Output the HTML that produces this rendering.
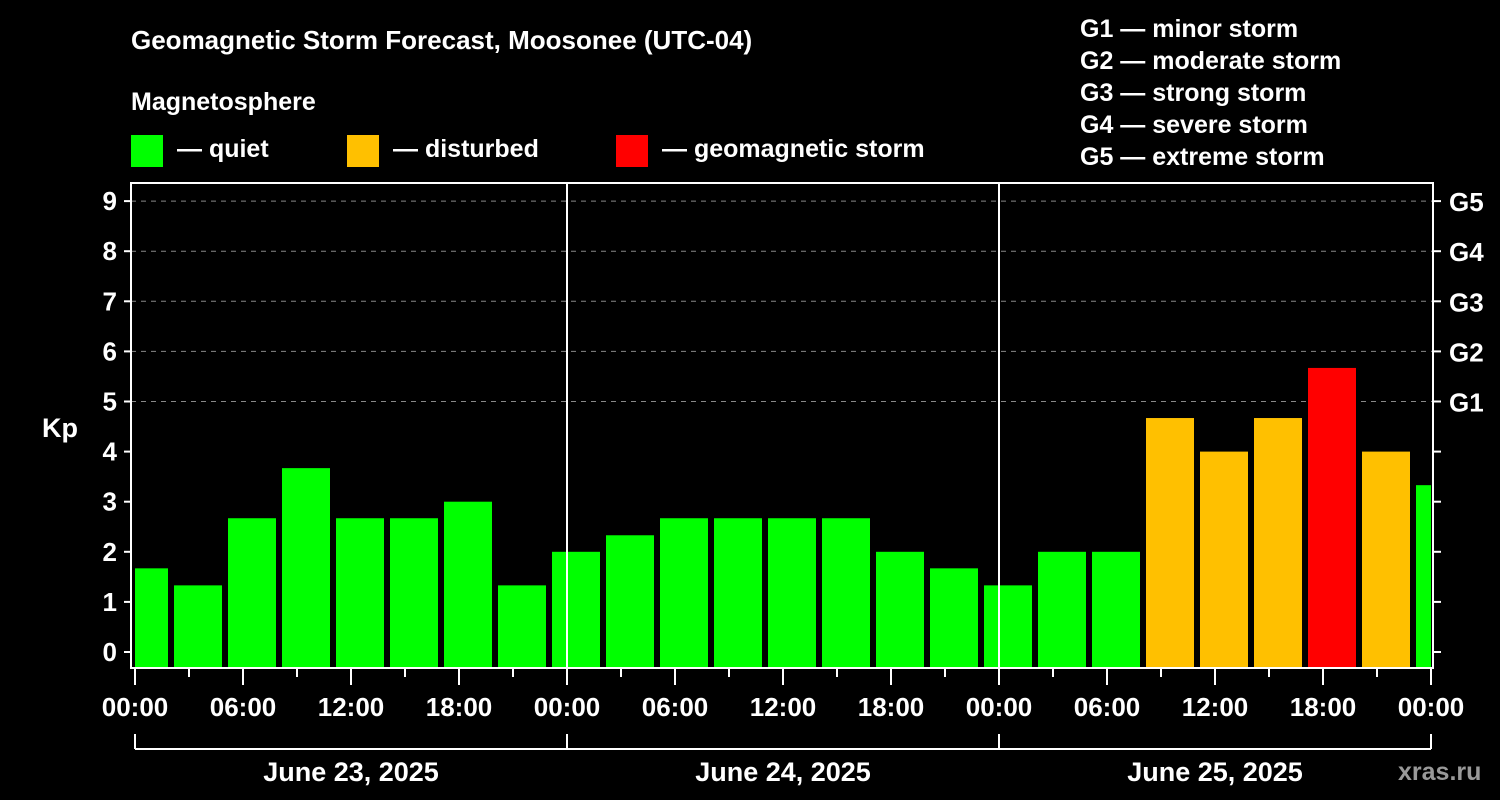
<!DOCTYPE html>
<html><head><meta charset="utf-8"><style>
html,body{margin:0;padding:0;background:#000;}
svg{display:block;font-family:"Liberation Sans",Arial,sans-serif;font-weight:bold;}
</style></head><body>
<svg id="chart" width="1500" height="800" viewBox="0 0 1500 800" xmlns="http://www.w3.org/2000/svg">
<rect width="1500" height="800" fill="#000"/>
<text x="131" y="49" fill="#fff" font-size="26">Geomagnetic Storm Forecast, Moosonee (UTC-04)</text>
<text x="131" y="110" fill="#fff" font-size="25">Magnetosphere</text>
<g><rect x="131" y="135" width="32" height="32" fill="#00ff00"/><text x="177" y="157" fill="#fff" font-size="25">— quiet</text></g>
<g><rect x="347" y="135" width="32" height="32" fill="#ffc000"/><text x="393" y="157" fill="#fff" font-size="25">— disturbed</text></g>
<g><rect x="616" y="135" width="32" height="32" fill="#ff0000"/><text x="662" y="157" fill="#fff" font-size="25">— geomagnetic storm</text></g>
<g fill="#fff" font-size="25">
<text x="1080" y="37">G1 — minor storm</text>
<text x="1080" y="69">G2 — moderate storm</text>
<text x="1080" y="101">G3 — strong storm</text>
<text x="1080" y="133">G4 — severe storm</text>
<text x="1080" y="165">G5 — extreme storm</text>
</g>
<text x="42" y="437" fill="#fff" font-size="27">Kp</text>
<g id="grid"></g><g id="bars"></g><g id="axes"></g>
<text x="1398" y="780" fill="#999" font-size="25">xras.ru</text>
</svg>
<script>
const kpValues=[1.67,1.33,2.67,3.67,2.67,2.67,3.0,1.33,2.0,2.33,2.67,2.67,2.67,2.67,2.0,1.67,1.33,2.0,2.0,4.67,4.0,4.67,5.67,4.0,3.33];
const binStartHours=[-1,2,5,8,11,14,17,20,23,26,29,32,35,38,41,44,47,50,53,56,59,62,65,68,71];
const yTicks=[0,1,2,3,4,5,6,7,8,9];
const gLabels=["G1","G2","G3","G4","G5"];
const gLevels=[5,6,7,8,9];
const xTickLabels=["00:00","06:00","12:00","18:00","00:00","06:00","12:00","18:00","00:00","06:00","12:00","18:00","00:00"];
const dayLabels=["June 23, 2025","June 24, 2025","June 25, 2025"];
const NS="http://www.w3.org/2000/svg";
const X0=135,PXH=18,Y0=652,PXK=50.1,L=131,R=1433,T=183,B=668;
const x=h=>X0+h*PXH, y=k=>Y0-k*PXK;
function mk(tag,attrs,parent,txt){const e=document.createElementNS(NS,tag);for(const k in attrs)e.setAttribute(k,attrs[k]);if(txt!==undefined)e.textContent=txt;parent.appendChild(e);return e;}
const grid=document.getElementById('grid'),bars=document.getElementById('bars'),axes=document.getElementById('axes');
gLevels.forEach((g,i)=>{const l=mk('line',{x1:L,x2:R,y1:y(g),y2:y(g),stroke:'#888','stroke-dasharray':'5,5','stroke-width':1},grid);

});
kpValues.forEach((v,i)=>{const s=binStartHours[i];let x1=x(s)+3,x2=x(s+3)-3;x1=Math.max(x1,X0);x2=Math.min(x2,R-2);
const c=v>=5?'#ff0000':(v>=4?'#ffc000':'#00ff00');
const r=mk('rect',{x:x1,y:y(v),width:x2-x1,height:B-y(v),fill:c},bars);

});
[24,48].forEach(h=>{const l=mk('line',{x1:x(h),x2:x(h),y1:T,y2:B,stroke:'#fff','stroke-width':2},axes);

});
const box=mk('rect',{x:L,y:T,width:R-L,height:B-T,fill:'none',stroke:'#fff','stroke-width':2},axes);


yTicks.forEach(k=>{mk('line',{x1:L-7,x2:L,y1:y(k),y2:y(k),stroke:'#fff','stroke-width':2},axes);
mk('line',{x1:R,x2:R+8,y1:y(k),y2:y(k),stroke:'#fff','stroke-width':2},axes);
const t=mk('text',{x:L-14,y:y(k)+9,fill:'#fff','font-size':26,'text-anchor':'end'},axes,String(k));

});
gLevels.forEach((g,i)=>{const t=mk('text',{x:R+16,y:y(g)+10,fill:'#fff','font-size':26},axes,gLabels[i]);

});
for(let h=0;h<=72;h+=3){const major=h%6===0;mk('line',{x1:x(h),x2:x(h),y1:B,y2:B+(major?17:9),stroke:'#fff','stroke-width':2},axes);}
xTickLabels.forEach((s,i)=>{const t=mk('text',{x:x(i*6),y:716,fill:'#fff','font-size':26,'text-anchor':'middle'},axes,s);

});
mk('line',{x1:x(0),x2:x(72),y1:749,y2:749,stroke:'#fff','stroke-width':2},axes);
[0,24,48,72].forEach(h=>mk('line',{x1:x(h),x2:x(h),y1:734,y2:749,stroke:'#fff','stroke-width':2},axes));
dayLabels.forEach((s,i)=>{const t=mk('text',{x:x(i*24+12),y:781,fill:'#fff','font-size':27,'text-anchor':'middle'},axes,s);

});
</script>
</body></html>
